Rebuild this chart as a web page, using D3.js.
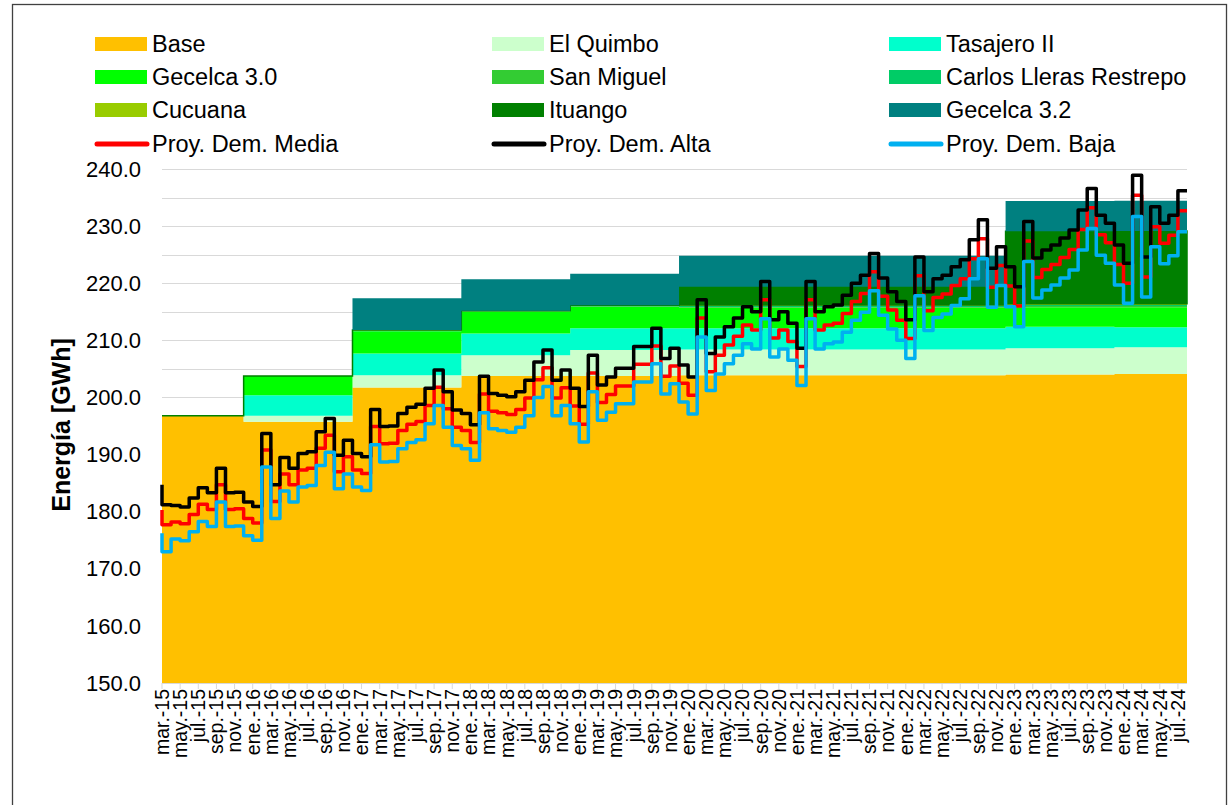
<!DOCTYPE html>
<html>
<head>
<meta charset="utf-8">
<script src="https://cdn.jsdelivr.net/npm/d3@7"></script>
<style>
    body { margin: 0; background: #fff; }
    svg text { font-family: "Liberation Sans", Arial, sans-serif; fill: #000; }
</style>
</head>
<body>
<svg id="grafico" width="1229" height="805"></svg>
<script>
'use strict';

// Meses (categorías del eje x)
const meses = [
    "mar.-15","abr.-15","may.-15","jun.-15","jul.-15","ago.-15","sep.-15","oct.-15","nov.-15","dic.-15",
    "ene.-16","feb.-16","mar.-16","abr.-16","may.-16","jun.-16","jul.-16","ago.-16","sep.-16","oct.-16","nov.-16","dic.-16",
    "ene.-17","feb.-17","mar.-17","abr.-17","may.-17","jun.-17","jul.-17","ago.-17","sep.-17","oct.-17","nov.-17","dic.-17",
    "ene.-18","feb.-18","mar.-18","abr.-18","may.-18","jun.-18","jul.-18","ago.-18","sep.-18","oct.-18","nov.-18","dic.-18",
    "ene.-19","feb.-19","mar.-19","abr.-19","may.-19","jun.-19","jul.-19","ago.-19","sep.-19","oct.-19","nov.-19","dic.-19",
    "ene.-20","feb.-20","mar.-20","abr.-20","may.-20","jun.-20","jul.-20","ago.-20","sep.-20","oct.-20","nov.-20","dic.-20",
    "ene.-21","feb.-21","mar.-21","abr.-21","may.-21","jun.-21","jul.-21","ago.-21","sep.-21","oct.-21","nov.-21","dic.-21",
    "ene.-22","feb.-22","mar.-22","abr.-22","may.-22","jun.-22","jul.-22","ago.-22","sep.-22","oct.-22","nov.-22","dic.-22",
    "ene.-23","feb.-23","mar.-23","abr.-23","may.-23","jun.-23","jul.-23","ago.-23","sep.-23","oct.-23","nov.-23","dic.-23",
    "ene.-24","feb.-24","mar.-24","abr.-24","may.-24","jun.-24","jul.-24"
];

// Capacidad por periodo (GWh), cada periodo empieza en el mes indicado
const inicioPeriodo = ["mar.-15", "dic.-15", "dic.-16", "dic.-17", "dic.-18", "dic.-19", "dic.-22", "dic.-23"];
const base          = [196.8, 195.75, 201.75, 203.75, 203.75, 203.9, 204.0, 204.1];
const elQuimbo      = [0, 1.05, 2.15, 3.65, 4.55, 4.5, 4.6, 4.7];
const tasajero      = [0, 3.6, 3.8, 3.8, 3.8, 3.7, 3.8, 3.5];
const gecelca30     = [0, 3.35, 3.9, 3.8, 3.75, 3.6, 3.4, 3.5];
const sanMiguel     = [0, 0, 0, 0, 0.1, 0.15, 0.2, 0.2];
const carlosLleras  = [0, 0, 0.1, 0.1, 0.1, 0.2, 0.2, 0.2];
const cucuana       = [0, 0, 0.1, 0.1, 0.1, 0.15, 0.2, 0.2];
const ituango       = [0, 0, 0, 0, 0, 3.2, 12.7, 12.75];
const gecelca32     = [0, 0, 5.55, 5.5, 5.5, 5.4, 5.3, 5.3];

// Proyecciones de demanda (GWh), un valor por mes; "inicio" es el valor al borde izquierdo
const inicioAlta = 184.7, inicioMedia = 180.3, inicioBaja = 176.2;
const demAlta = [
    181.2,181.1,180.8,182.4,184.2,183.3,187.6,183.3,183.4,181.7,
    180.9,193.7,184.7,189.5,187.6,190.2,190.5,194.0,196.3,189.9,192.5,190.2,
    189.6,197.9,194.9,195.0,197.2,198.3,198.8,201.6,204.8,201.0,197.8,197.2,
    195.2,203.7,200.7,200.4,200.1,201.0,203.0,206.2,208.3,203.0,204.8,201.6,
    198.4,207.4,202.2,203.6,205.1,205.1,208.9,208.9,212.1,206.8,208.6,205.7,
    203.6,217.1,207.7,210.6,212.4,213.9,215.9,215.0,220.3,213.6,215.0,213.0,
    208.6,220.3,215.0,215.9,216.2,217.9,220.0,221.4,225.2,220.9,218.5,216.8,
    213.6,224.6,218.5,220.8,221.4,222.9,224.1,227.6,231.1,222.6,226.4,222.9,
    219.4,230.8,224.4,225.8,226.7,227.9,229.3,232.8,236.6,231.9,230.5,226.7,
    223.5,238.9,224.6,233.4,230.5,231.9,236.2
];
const demMedia = [
    177.7,178.2,177.9,179.5,181.3,180.4,184.7,180.4,180.5,178.8,
    178.0,190.8,181.8,186.6,184.7,187.3,187.6,191.1,193.4,187.0,189.6,187.3,
    186.7,194.9,191.9,192.0,194.2,195.3,195.8,198.6,201.8,198.0,194.8,194.2,
    192.1,200.6,197.6,197.3,197.0,197.9,199.9,203.1,205.2,199.9,201.7,198.5,
    195.3,204.3,199.1,200.5,202.0,202.0,205.8,205.8,209.0,203.7,205.5,202.5,
    200.4,213.9,204.5,207.4,209.2,210.7,212.7,211.8,217.1,210.4,211.8,209.8,
    205.4,217.1,211.8,212.7,213.0,214.7,216.8,218.2,222.0,217.7,215.3,213.5,
    210.3,221.3,215.2,217.5,218.1,219.6,220.8,224.3,227.8,219.3,223.1,219.5,
    216.0,227.4,221.0,222.4,223.3,224.5,225.9,229.4,233.2,228.5,227.1,223.3,
    220.0,235.4,221.1,229.9,227.0,228.4,232.7
];
const demBaja = [
    173.0,175.2,174.9,176.5,178.3,177.4,181.7,177.4,177.5,175.8,
    175.0,187.8,178.8,183.6,181.7,184.3,184.6,188.1,190.4,184.0,186.6,184.3,
    183.7,191.7,188.7,188.8,191.0,192.1,192.6,195.4,198.6,194.8,191.6,191.0,
    189.0,197.3,194.5,194.2,193.9,194.8,196.8,200.0,201.9,196.8,198.6,195.4,
    192.2,201.0,196.0,197.4,198.9,198.9,202.7,202.7,205.9,200.6,202.4,199.2,
    197.1,210.6,201.2,204.1,205.9,207.4,209.4,208.5,213.8,207.1,208.5,206.5,
    202.1,213.8,208.5,209.4,209.7,211.4,213.5,214.9,218.7,214.4,212.0,210.0,
    206.8,217.8,211.7,214.0,214.6,216.1,217.3,220.8,224.3,215.8,219.6,215.9,
    212.4,223.8,217.4,218.8,219.7,220.9,222.3,225.8,229.6,224.9,223.5,219.7,
    216.5,231.7,217.6,226.4,223.4,224.8,229.0
];

const capas = [
    {nombre: "Base", valores: base, color: "#FFC000"},
    {nombre: "El Quimbo", valores: elQuimbo, color: "#CCFFCC"},
    {nombre: "Tasajero II", valores: tasajero, color: "#00FFCC"},
    {nombre: "Gecelca 3.0", valores: gecelca30, color: "#00FF00"},
    {nombre: "San Miguel", valores: sanMiguel, color: "#33CC33"},
    {nombre: "Carlos Lleras Restrepo", valores: carlosLleras, color: "#00CC66"},
    {nombre: "Cucuana", valores: cucuana, color: "#99CC00"},
    {nombre: "Ituango", valores: ituango, color: "#008000"},
    {nombre: "Gecelca 3.2", valores: gecelca32, color: "#008080"}
];
const lineas = [
    {nombre: "Proy. Dem. Media", valores: demMedia, inicio: inicioMedia, color: "#FF0000"},
    {nombre: "Proy. Dem. Alta", valores: demAlta, inicio: inicioAlta, color: "#000000"},
    {nombre: "Proy. Dem. Baja", valores: demBaja, inicio: inicioBaja, color: "#00B0F0"}
];

const svg = d3.select("#grafico");
const izq = 162, der = 1187, arriba = 169, abajo = 683;

const x = d3.scaleLinear().domain([0, meses.length]).range([izq, der]);
const y = d3.scaleLinear().domain([150, 240]).range([abajo, arriba]);

// Marco exterior
svg.append("rect")
    .attr("x", 12.5).attr("y", 4.5)
    .attr("width", 1214).attr("height", 830)
    .attr("fill", "none").attr("stroke", "#404040").attr("stroke-width", 1.3);

// Líneas de cuadrícula
svg.append("g").selectAll("line")
    .data(d3.range(150, 241, 5))
    .join("line")
    .attr("x1", izq).attr("x2", der)
    .attr("y1", d => Math.round(y(d)) + 0.5).attr("y2", d => Math.round(y(d)) + 0.5)
    .attr("stroke", "#d9d9d9").attr("stroke-width", 1);

// Tabla mensual de capacidad (se repite el valor del periodo vigente)
const indicePeriodo = inicioPeriodo.map(m => meses.indexOf(m));
const tabla = meses.map((m, i) => {
    const p = d3.bisectRight(indicePeriodo, i) - 1;
    const fila = {i: i};
    capas.forEach(c => { fila[c.nombre] = c.valores[p]; });
    return fila;
});
tabla.push(Object.assign({}, tabla[tabla.length - 1], {i: meses.length}));

const pila = d3.stack().keys(capas.map(c => c.nombre))(tabla);
// la base arranca en el piso del eje
pila[0].forEach(d => { d[0] = 150; });

const area = d3.area()
    .curve(d3.curveStepAfter)
    .x(d => x(d.data.i))
    .y0(d => y(d[0]))
    .y1(d => y(d[1]));

svg.append("g").selectAll("path")
    .data(pila)
    .join("path")
    .attr("d", area)
    .attr("fill", (d, k) => capas[k].color)
    .attr("stroke", (d, k) => capas[k].nombre === "Ituango" ? "#008000" : "none")
    .attr("stroke-width", 1.5);

// Eje x
const ejeX = svg.append("g");
ejeX.append("line")
    .attr("x1", izq).attr("x2", der)
    .attr("y1", abajo + 0.5).attr("y2", abajo + 0.5)
    .attr("stroke", "#d9d9d9");
const marcas = meses.map((m, i) => i).filter(i => i % 2 === 0);
ejeX.selectAll("line.marca")
    .data(marcas)
    .join("line")
    .attr("class", "marca")
    .attr("x1", i => x(i)).attr("x2", i => x(i))
    .attr("y1", abajo).attr("y2", abajo + 6)
    .attr("stroke", "#d9d9d9");
ejeX.selectAll("text")
    .data(marcas)
    .join("text")
    .attr("transform", i => `translate(${x(i)},${abajo + 6}) rotate(-90)`)
    .attr("text-anchor", "end")
    .attr("dy", "0.35em")
    .style("font-size", "19.5px")
    .text(i => meses[i]);

// Eje y
svg.append("g").selectAll("text")
    .data(d3.range(150, 241, 10))
    .join("text")
    .attr("x", 141)
    .attr("y", d => y(d))
    .attr("dy", "0.35em")
    .attr("text-anchor", "end")
    .style("font-size", "22px")
    .text(d => d3.format(".1f")(d));

svg.append("text")
    .attr("transform", "translate(70,425) rotate(-90)")
    .attr("text-anchor", "middle")
    .style("font-size", "25px")
    .style("font-weight", "bold")
    .text("Energía [GWh]");

// Líneas de demanda en escalón
const linea = d3.line()
    .curve(d3.curveStepAfter)
    .x(d => x(d[0]))
    .y(d => y(d[1]));

svg.append("g").selectAll("path")
    .data(lineas)
    .join("path")
    .attr("d", s => {
        const puntos = [[0, s.inicio]];
        s.valores.forEach((v, i) => puntos.push([i, v]));
        puntos.push([meses.length, s.valores[s.valores.length - 1]]);
        return linea(puntos);
    })
    .attr("fill", "none")
    .attr("stroke", s => s.color)
    .attr("stroke-width", 3.5)
    .attr("stroke-linejoin", "round");

// Leyenda
const columnas = [95, 492, 889];
const filas = [44, 77, 110, 144];
const itemsLeyenda = capas.map(c => ({nombre: c.nombre, color: c.color, tipo: "area"}))
    .concat(lineas.map(l => ({nombre: l.nombre, color: l.color, tipo: "linea"})));

const leyenda = svg.append("g").selectAll("g")
    .data(itemsLeyenda)
    .join("g")
    .attr("transform", (d, k) => `translate(${columnas[k % 3]},${filas[Math.floor(k / 3)]})`);

leyenda.filter(d => d.tipo === "area").append("rect")
    .attr("x", 0).attr("y", -7)
    .attr("width", 52).attr("height", 14)
    .attr("fill", d => d.color);
leyenda.filter(d => d.tipo === "linea").append("line")
    .attr("x1", 2).attr("x2", 52)
    .attr("y1", 0).attr("y2", 0)
    .attr("stroke", d => d.color)
    .attr("stroke-width", 5)
    .attr("stroke-linecap", "round");
leyenda.append("text")
    .attr("x", 57)
    .attr("dy", "0.35em")
    .style("font-size", "23.5px")
    .text(d => d.nombre);
</script>
</body>
</html>
